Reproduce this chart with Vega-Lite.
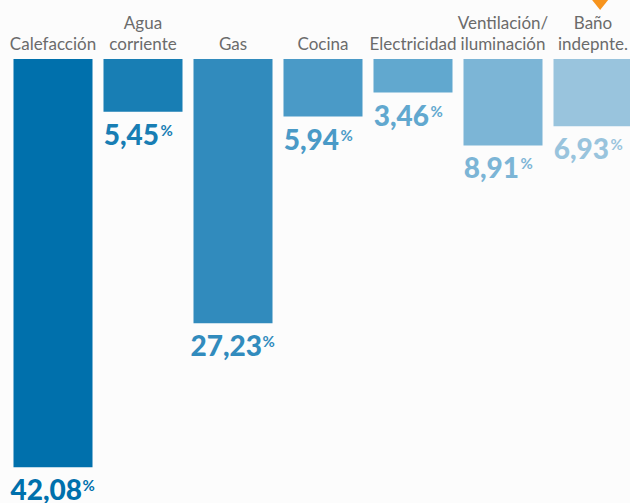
{
  "$schema": "https://vega.github.io/schema/vega-lite/v6.json",
  "width": 630,
  "height": 444,
  "autosize": {"type": "none"},
  "padding": {"left": 8, "top": 59, "right": 0, "bottom": 0},
  "background": "#fcfcfc",
  "config": {"view": {"stroke": null}},
  "data": {
    "values": [
      {"cat": "Calefacción", "label": "|Calefacción", "value": 42.08, "num": "42,08"},
      {"cat": "Agua", "label": "Agua|corriente", "value": 5.45, "num": "5,45"},
      {"cat": "Gas", "label": "|Gas", "value": 27.23, "num": "27,23"},
      {"cat": "Cocina", "label": "|Cocina", "value": 5.94, "num": "5,94"},
      {"cat": "Electricidad", "label": "|Electricidad", "value": 3.46, "num": "3,46"},
      {"cat": "Ventilación", "label": "Ventilación/|iluminación", "value": 8.91, "num": "8,91"},
      {"cat": "Baño", "label": "Baño|indepnte.", "value": 6.93, "num": "6,93"}
    ]
  },
  "encoding": {
    "x": {
      "field": "cat",
      "type": "nominal",
      "sort": null,
      "axis": null,
      "scale": {"paddingInner": 0.122, "paddingOuter": 0.061}
    }
  },
  "layer": [
    {
      "mark": {"type": "bar"},
      "encoding": {
        "y": {
          "field": "value",
          "type": "quantitative",
          "scale": {"domain": [0, 45.77], "reverse": true, "nice": false, "zero": true},
          "axis": null
        },
        "color": {
          "field": "cat",
          "type": "nominal",
          "sort": null,
          "legend": null,
          "scale": {"range": ["#0070ac", "#187eb4", "#318bbd", "#4a9ac7", "#61a8cf", "#7cb5d6", "#99c4dd"]}
        }
      }
    },
    {
      "mark": {
        "type": "text",
        "align": "right",
        "baseline": "alphabetic",
        "font": "Lato",
        "fontWeight": 900,
        "fontSize": 28,
        "dy": 33,
        "dx": {"expr": "datum.value >= 10 ? 29 : 16"}
      },
      "encoding": {
        "y": {"field": "value", "type": "quantitative"},
        "text": {"field": "num"},
        "color": {"field": "cat", "type": "nominal", "sort": null, "legend": null}
      }
    },
    {
      "mark": {
        "type": "text",
        "align": "left",
        "baseline": "alphabetic",
        "font": "Lato",
        "fontWeight": "bold",
        "fontSize": 15,
        "dy": 24,
        "dx": {"expr": "datum.value >= 10 ? 29.5 : 17.5"}
      },
      "encoding": {
        "y": {"field": "value", "type": "quantitative"},
        "text": {"value": "%"},
        "color": {"field": "cat", "type": "nominal", "sort": null, "legend": null}
      }
    },
    {
      "mark": {
        "type": "text",
        "align": "center",
        "baseline": "alphabetic",
        "lineBreak": "|",
        "lineHeight": 21,
        "font": "Lato",
        "fontSize": 17,
        "color": "#6b6b6b",
        "dy": -30
      },
      "encoding": {
        "y": {"datum": 0},
        "text": {"field": "label"}
      }
    },
    {
      "data": {"values": [{"cat": "Baño"}]},
      "mark": {
        "type": "point",
        "shape": "M-1.04,-0.3L1.04,-0.3L0,1Z",
        "size": 400,
        "filled": true,
        "opacity": 1,
        "color": "#f7941d",
        "clip": false
      },
      "encoding": {
        "x": {"field": "cat", "type": "nominal", "bandPosition": 0.59},
        "y": {"datum": -6.08}
      }
    }
  ]
}
